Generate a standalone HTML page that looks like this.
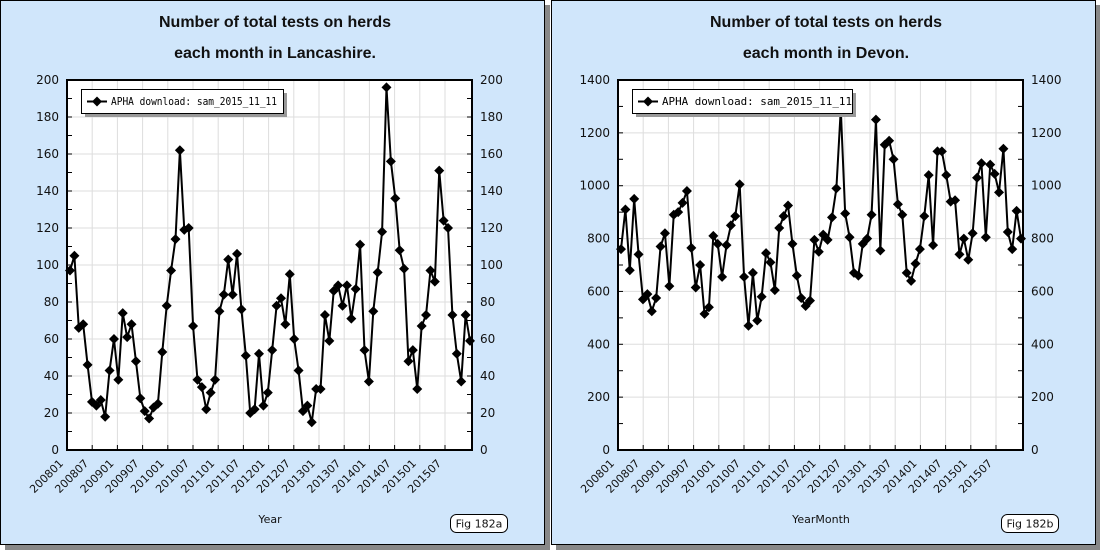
<!DOCTYPE html>
<html><head><meta charset="utf-8"><style>
body{margin:0;background:#fff;width:1100px;height:550px;overflow:hidden}
svg{display:block}
.t{font:bold 16px "Liberation Sans",sans-serif;fill:#111}
.k{font:12px "DejaVu Sans","Liberation Sans",sans-serif;fill:#111}
.r{font:11px "DejaVu Sans","Liberation Sans",sans-serif;fill:#111}
.m{font:11px "DejaVu Sans Mono","Liberation Mono",monospace;fill:#000}
</style></head><body>
<svg id="s" width="1100" height="550" xmlns="http://www.w3.org/2000/svg"></svg>
<script>
const L=[97,105,66,68,46,26,24,27,18,43,60,38,74,61,68,48,28,21,17,23,25,53,78,97,114,162,119,120,67,38,34,22,31,38,75,84,103,84,106,76,51,20,22,52,24,31,54,78,82,68,95,60,43,21,24,15,33,33,73,59,86,89,78,89,71,87,111,54,37,75,96,118,196,156,136,108,98,48,54,33,67,73,97,91,151,124,120,73,52,37,73,59];
const D=[760,910,680,950,740,570,590,525,575,770,820,620,890,900,935,980,765,615,700,515,540,810,780,655,775,850,885,1005,655,470,670,490,580,745,710,605,840,885,925,780,660,575,545,565,795,750,815,795,880,990,1290,895,805,670,660,780,800,890,1250,755,1155,1170,1100,930,890,670,640,705,760,885,1040,775,1130,1130,1040,940,945,740,800,720,820,1030,1085,805,1080,1045,975,1140,825,760,905,800];
const labs=["200801","200807","200901","200907","201001","201007","201101","201107","201201","201207","201301","201307","201401","201407","201501","201507"];
let h='';
function panel(ox,title,data,max,step,minor,xl,fig){
 const pl=ox+67,pr=ox+472,pt=80,pb=450;
 h+=`<rect x="${ox+5}" y="5" width="545" height="545" fill="#888"/>`;
 h+=`<rect x="${ox+0.5}" y="0.5" width="544" height="544" fill="#d0e6fb" stroke="#000"/>`;
 h+=`<text class="t" x="${ox+275}" y="27" text-anchor="middle">Number of total tests on herds</text>`;
 h+=`<text class="t" x="${ox+275}" y="58" text-anchor="middle">${title}</text>`;
 h+=`<rect x="${pl}" y="${pt}" width="${pr-pl}" height="${pb-pt}" fill="#fff"/>`;
 const sy=v=>pb-(v/max)*(pb-pt);
 for(let k=1;k<16;k++){const x=pl+k*25.2;h+=`<line x1="${x}" y1="${pt}" x2="${x}" y2="${pb}" stroke="#ddd"/>`;}
 for(let v=step;v<max;v+=step){const y=sy(v);h+=`<line x1="${pl}" y1="${y}" x2="${pr}" y2="${y}" stroke="#ddd"/>`;}
 for(let v=0;v<=max;v+=minor){const y=sy(v);h+=`<line x1="${pl}" y1="${y}" x2="${pl+5}" y2="${y}" stroke="#000"/><line x1="${pr-5}" y1="${y}" x2="${pr}" y2="${y}" stroke="#000"/>`;}
 for(let v=0;v<=max;v+=step){const y=sy(v)+4;h+=`<text class="k" x="${pl-8}" y="${y}" text-anchor="end">${v}</text><text class="k" x="${pr+8}" y="${y}">${v}</text>`;}
 for(let k=0;k<16;k++){const x=pl+k*25.2;h+=`<line x1="${x}" y1="${pb-5}" x2="${x}" y2="${pb}" stroke="#000"/><text class="r" transform="translate(${x-3},${pb+14}) rotate(-45)" text-anchor="end">${labs[k]}</text>`;}
 let pts=data.map((v,i)=>[pl+3+i*(400/91),Math.max(pt,sy(v))]);
 h+=`<polyline points="${pts.map(p=>p.join(',')).join(' ')}" fill="none" stroke="#000" stroke-width="2"/>`;
 pts.forEach(p=>{h+=`<path d="M${p[0]-5},${p[1]}L${p[0]},${p[1]-5}L${p[0]+5},${p[1]}L${p[0]},${p[1]+5}Z" fill="#000"/>`;});
 h+=`<rect x="${pl}" y="${pt}" width="${pr-pl}" height="${pb-pt}" fill="none" stroke="#000" stroke-width="2"/>`;
 const lw=(ox?220:202);
 h+=`<rect x="${pl+18}" y="93" width="${lw}" height="24" fill="#999"/><rect x="${pl+14.5}" y="89.5" width="${lw}" height="24" fill="#fff" stroke="#000"/>`;
 h+=`<line x1="${pl+20}" y1="101.5" x2="${pl+40}" y2="101.5" stroke="#000" stroke-width="2"/><path d="M${pl+25},101.5L${pl+30},96.5L${pl+35},101.5L${pl+30},106.5Z"/>`;
 h+=`<text class="m" x="${pl+44}" y="105" textLength="${ox?190:166}" lengthAdjust="spacingAndGlyphs">APHA download: sam_2015_11_11</text>`;
 h+=`<text class="r" x="${ox+270}" y="523" text-anchor="middle">${xl}</text>`;
 h+=`<rect x="${ox+450.5}" y="514.5" width="57" height="18" rx="6" fill="#fff" stroke="#000"/><text class="r" x="${ox+479}" y="527.5" text-anchor="middle">${fig}</text>`;
}
panel(0,"each month in Lancashire.",L,200,20,10,"Year","Fig 182a");
panel(551,"each month in Devon.",D,1400,200,100,"YearMonth","Fig 182b");
document.getElementById('s').innerHTML=h;
</script>
</body></html>
